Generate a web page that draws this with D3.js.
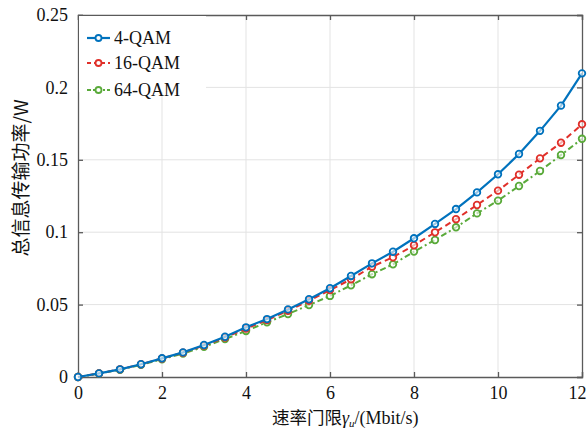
<!DOCTYPE html>
<html><head><meta charset="utf-8">
<script src="https://cdn.jsdelivr.net/npm/d3@7/dist/d3.min.js"></script>
<style>
html,body{margin:0;padding:0;background:#fff;}
svg{display:block;}
</style></head>
<body>
<svg id="chart" width="588" height="428"></svg>
<script>
const rates = [0,0.5,1,1.5,2,2.5,3,3.5,4,4.5,5,5.5,6,6.5,7,7.5,8,8.5,9,9.5,10,10.5,11,11.5,12];
const qam4 = [0,0.0025,0.0053,0.0088,0.0129,0.0170,0.0221,0.0278,0.0343,0.0400,0.0467,0.0537,0.0613,0.0698,0.0785,0.0865,0.0958,0.1057,0.1160,0.1275,0.1400,0.1540,0.1700,0.1874,0.2097];
const qam16 = [0,0.0025,0.0053,0.0088,0.0128,0.0168,0.0217,0.0272,0.0334,0.0393,0.0458,0.0527,0.0600,0.0675,0.0762,0.0827,0.0910,0.0999,0.1090,0.1188,0.1287,0.1397,0.1510,0.1618,0.1745];
const qam64 = [0,0.0024,0.0050,0.0084,0.0123,0.0162,0.0209,0.0262,0.0318,0.0378,0.0435,0.0497,0.0560,0.0633,0.0710,0.0778,0.0866,0.0946,0.1034,0.1130,0.1218,0.1319,0.1423,0.1533,0.1645];
const seriesNames = ["4-QAM","16-QAM","64-QAM"];
const xTicks = [0,2,4,6,8,10,12];
const yTicks = [0,0.05,0.1,0.15,0.2,0.25];
const yTickLabels = ["0","0.05","0.1","0.15","0.2","0.25"];

const series = [
  {name: seriesNames[0], values: qam4, color: "#0072BD", dash: null, width: 2.2},
  {name: seriesNames[1], values: qam16, color: "#E0302A", dash: "6,4", width: 2},
  {name: seriesNames[2], values: qam64, color: "#5AAA3A", dash: "6,3,2,3", width: 2}
];

const svg = d3.select("#chart");
const L = 78, R = 582, T = 15, B = 377;
const x = d3.scaleLinear().domain([0,12]).range([L,R]);
const y = d3.scaleLinear().domain([0,0.25]).range([B,T]);
const serif = "'Liberation Serif','Times New Roman',serif";
const cjk = "'Noto Sans CJK SC',sans-serif";
const axisColor = "#5a5a5a";

// grid
const grid = svg.append("g");
grid.selectAll("line.gx").data(xTicks.slice(1,-1)).enter().append("line")
  .attr("x1", d=>x(d)).attr("x2", d=>x(d)).attr("y1", T).attr("y2", B)
  .attr("stroke", "#e3e3e3").attr("stroke-width", 1);
grid.selectAll("line.gy").data(yTicks.slice(1,-1)).enter().append("line")
  .attr("x1", L).attr("x2", R).attr("y1", d=>y(d)).attr("y2", d=>y(d))
  .attr("stroke", "#e3e3e3").attr("stroke-width", 1);

// axes (ticks inward)
const xAxis = d3.axisBottom(x).tickValues(xTicks).tickSize(-5).tickPadding(9).tickFormat(d3.format("d"));
const yAxis = d3.axisLeft(y).tickValues(yTicks).tickSize(-5).tickPadding(10).tickFormat((d,i)=>yTickLabels[i]);
const gx = svg.append("g").attr("transform", `translate(0,${B})`).call(xAxis);
const gy = svg.append("g").attr("transform", `translate(${L},0)`).call(yAxis);
const gxt = svg.append("g").attr("transform", `translate(0,${T})`).call(d3.axisTop(x).tickValues(xTicks).tickSize(-5).tickFormat(""));
const gyr = svg.append("g").attr("transform", `translate(${R},0)`).call(d3.axisRight(y).tickValues(yTicks).tickSize(-5).tickFormat(""));
[gx,gy,gxt,gyr].forEach(g=>{
  g.select(".domain").attr("stroke", axisColor).attr("stroke-width", 1.3);
  g.selectAll(".tick line").attr("stroke", axisColor).attr("stroke-width", 1.3);
  g.selectAll(".tick text").attr("fill", "#111").style("font-family", serif).style("font-size", "18px");
});
gx.selectAll(".tick text").filter(d=>d===12).attr("dx", -5);

// lines
const lineGen = vals => d3.line().x((d,i)=>x(rates[i])).y(d=>y(d))(vals);
// draw in order: green, red, blue on top
[series[2], series[1], series[0]].forEach(s=>{
  const g = svg.append("g");
  g.append("path").attr("d", lineGen(s.values)).attr("fill","none")
    .attr("stroke", s.color).attr("stroke-width", s.width)
    .attr("stroke-dasharray", s.dash);
  g.selectAll("circle").data(s.values).enter().append("circle")
    .attr("cx", (d,i)=>x(rates[i])).attr("cy", d=>y(d)).attr("r", 3.3)
    .attr("fill", "#fff").attr("fill-opacity", 0.6).attr("stroke", s.color).attr("stroke-width", 1.8);
});

// legend
const leg = svg.append("g");
leg.append("rect").attr("x", L+1).attr("y", T+1).attr("width", 127).attr("height", 76).attr("fill", "#fff");
const legY = [38, 63, 90];
series.forEach((s,i)=>{
  const g = leg.append("g");
  g.append("line").attr("x1", 87).attr("x2", 110).attr("y1", legY[i]).attr("y2", legY[i])
    .attr("stroke", s.color).attr("stroke-width", s.width).attr("stroke-dasharray", s.dash ? (i===1?"4,3":"4,2,2,2") : null);
  g.append("circle").attr("cx", 98.5).attr("cy", legY[i]).attr("r", 3)
    .attr("fill", "#fff").attr("stroke", s.color).attr("stroke-width", 1.8);
  g.append("text").attr("x", 114).attr("y", legY[i]).attr("dy", "0.35em")
    .style("font-family", serif).style("font-size", "18px").attr("fill", "#111").text(s.name);
});

// axis labels
const xl = svg.append("text").attr("x", 272).attr("y", 423.5).attr("text-anchor","start")
  .style("font-size","18px").attr("fill","#111");
xl.append("tspan").style("font-family", cjk).style("font-size","17.5px").text("速率门限");
xl.append("tspan").style("font-family", serif).style("font-style","italic").text("γ");
xl.append("tspan").style("font-family", serif).style("font-style","italic").style("font-size","11px").attr("dy", 3).text("u");
xl.append("tspan").style("font-family", serif).attr("dy", -3).text("/(Mbit/s)");

svg.append("text").attr("transform", `translate(28,178) rotate(-90)`).attr("text-anchor","middle")
  .style("font-family", cjk).style("font-size","19px").attr("fill","#111")
  .text("总信息传输功率/W");
</script>
</body></html>
